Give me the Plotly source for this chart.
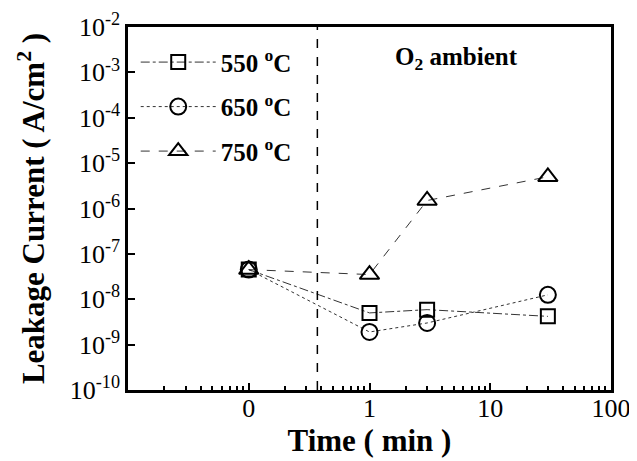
import plotly.graph_objects as go

# x = 0 is drawn at 0.1 on the log axis (labelled "0")
time_pos = [0.1, 1, 3, 30]
leak_550 = [4.5e-8, 5.0e-9, 5.9e-9, 4.2e-9]
leak_650 = [4.5e-8, 1.9e-9, 3.0e-9, 1.25e-8]
leak_750 = [4.5e-8, 3.5e-8, 1.5e-6, 5.0e-6]
series_names = ["550 <sup>o</sup>C", "650 <sup>o</sup>C", "750 <sup>o</sup>C"]
x_tickvals = [0.1, 1, 10, 100]
x_ticktext = ["0", "1", "10", "100"]
y_tickvals = [1e-10, 1e-9, 1e-8, 1e-7, 1e-6, 1e-5, 1e-4, 1e-3, 1e-2]
y_ticktext = ["10<sup>-10</sup>", "10<sup>-9</sup>", "10<sup>-8</sup>", "10<sup>-7</sup>",
              "10<sup>-6</sup>", "10<sup>-5</sup>", "10<sup>-4</sup>", "10<sup>-3</sup>",
              "10<sup>-2</sup>"]
divider_x = [0.37, 0.37]
divider_y = [1e-10, 1e-2]

FONT = "Liberation Serif"
fig = go.Figure()

styles = [("square-open", "dashdot", 14), ("circle-open", "dot", 16), ("triangle-up-open", "dash", 17)]
for i, (name, ys, (sym, dash, sz)) in enumerate(zip(series_names, [leak_550, leak_650, leak_750], styles)):
    fig.add_trace(go.Scatter(
        x=time_pos, y=ys, name=name, mode="lines+markers", legendgroup=f"g{i}",
        line=dict(color="#333", width=1, dash=dash),
        marker=dict(symbol=sym, size=sz, color="black", line=dict(color="black", width=2)),
    ))

fig.add_trace(go.Scatter(x=divider_x, y=divider_y, mode="lines", showlegend=False,
                         line=dict(color="black", width=1.5, dash="dash"), hoverinfo="skip"))

fig.add_annotation(text="<b>O<sub>2</sub> ambient</b>", xref="paper", yref="paper",
                   x=0.68, y=0.914, xanchor="center", yanchor="middle", showarrow=False,
                   font=dict(family=FONT, size=25, color="black"))

fig.update_layout(
    width=629, height=453,
    margin=dict(l=120, r=26, t=19, b=71),
    paper_bgcolor="white", plot_bgcolor="white",
    font=dict(family=FONT, color="black"),
    showlegend=True,
    legend=dict(x=0.016, y=0.966, xanchor="left", yanchor="top",
                bgcolor="rgba(0,0,0,0)", itemwidth=75, tracegroupgap=9,
                font=dict(family=FONT, size=25, color="black", weight="bold")),
    xaxis=dict(type="log", range=[-2, 2], tickmode="array", tickvals=x_tickvals,
               ticktext=x_ticktext, ticks="inside", ticklen=7, tickwidth=2,
               tickcolor="black", showline=True, linecolor="black", linewidth=2.5,
               mirror=True, showgrid=False, zeroline=False, automargin=False,
               ticklabelstandoff=-7,
               minor=dict(ticks="inside", ticklen=4, tickwidth=1.5, tickcolor="black",
                          dtick="D1", showgrid=False),
               tickfont=dict(family=FONT, size=26, color="black"),
               title=dict(text="<b>Time ( min )</b>", font=dict(family=FONT, size=31), standoff=0)),
    yaxis=dict(type="log", range=[-10, -2], tickmode="array", tickvals=y_tickvals,
               ticktext=y_ticktext, ticks="inside", ticklen=7, tickwidth=2,
               tickcolor="black", showline=True, linecolor="black", linewidth=2.5,
               mirror=True, showgrid=False, zeroline=False, automargin=False,
               tickfont=dict(family=FONT, size=26, color="black"),
               title=dict(text="<b>Leakage Current ( A/cm<sup>2</sup> )</b>",
                          font=dict(family=FONT, size=31), standoff=16)),
)

fig.write_html("out.html")
